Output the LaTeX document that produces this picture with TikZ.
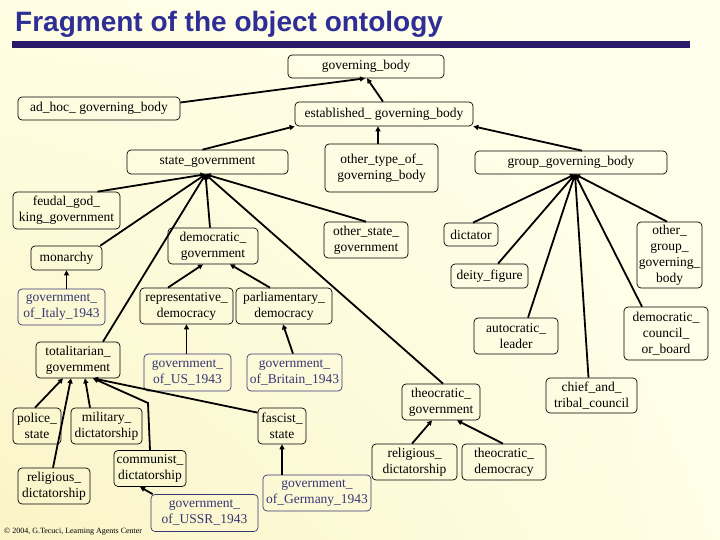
\documentclass[tikz,border=0pt]{standalone}
\usepackage{fontspec}
\setmainfont{Liberation Serif}
\newfontfamily\titlefont{Liberation Sans}
\usetikzlibrary{arrows.meta,shadings}
\definecolor{titleblue}{RGB}{46,46,150}
\definecolor{barblue}{RGB}{42,26,106}
\definecolor{instblue}{RGB}{55,55,115}
\definecolor{bgLL}{RGB}{250,244,198}
\definecolor{bgUL}{RGB}{255,254,228}
\definecolor{bgLR}{RGB}{255,254,230}
\definecolor{bgUR}{RGB}{255,255,238}
\begin{document}
\begin{tikzpicture}[x=1pt,y=-1pt,
  nd/.style={draw, rounded corners=4pt, line width=0.7pt, inner sep=0pt, align=center,
    font=\fontsize{13.5}{16}\selectfont},
  inst/.style={nd, draw=instblue, text=instblue},
  isa/.style={line width=1.8pt, -{Triangle[length=5pt,width=5pt]}}]
\useasboundingbox (0,0) rectangle (720,540);
\shade[lower left=bgLL, upper left=bgUL, lower right=bgLR, upper right=bgUR] (0,0) rectangle (720,540);
% title
\node[anchor=base west, inner sep=0pt, text=titleblue,
  font=\titlefont\bfseries\fontsize{28}{30}\selectfont] (title) at (15,32) {Fragment of the object ontology};
\fill[barblue] (12,41.5) rectangle (690,48);
% nodes
\node[nd, minimum width=156pt, minimum height=23pt] (gb) at (366,66.5) {governing\_body};
\node[nd, minimum width=162pt, minimum height=23pt] (ah) at (99,108.5) {ad\_hoc\_ governing\_body};
\node[nd, minimum width=178pt, minimum height=24pt] (est) at (384,114) {established\_ governing\_body};
\node[nd, minimum width=161pt, minimum height=24pt] (sg) at (207.5,162) {state\_government};
\node[nd, minimum width=113pt, minimum height=48pt] (ot) at (381.5,168) {other\_type\_of\_\\governing\_body};
\node[nd, minimum width=192pt, minimum height=23pt] (ggb) at (571,162.5) {group\_governing\_body};
\node[nd, minimum width=107pt, minimum height=37pt] (fg) at (66.5,210.5) {feudal\_god\_\\king\_government};
\node[nd, minimum width=71pt, minimum height=24pt] (mo) at (66.5,258) {monarchy};
\node[nd, minimum width=90pt, minimum height=36pt] (dg) at (213,246) {democratic\_\\government};
\node[nd, minimum width=84pt, minimum height=36pt] (os) at (366,240) {other\_state\_\\government};
\node[nd, minimum width=54pt, minimum height=23pt] (di) at (471,234.5) {dictator};
\node[nd, minimum width=65pt, minimum height=66pt] (og) at (669.5,255) {other\_\\group\_\\governing\_\\body};
\node[nd, minimum width=77pt, minimum height=24pt] (de) at (489.5,276) {deity\_figure};
\node[inst, minimum width=87pt, minimum height=36pt] (it) at (61.5,307) {government\_\\of\_Italy\_1943};
\node[nd, minimum width=93pt, minimum height=36pt] (rd) at (186.5,306) {representative\_\\democracy};
\node[nd, minimum width=96pt, minimum height=36pt] (pd) at (284,306) {parliamentary\_\\democracy};
\node[nd, minimum width=84pt, minimum height=36pt] (al) at (516,336) {autocratic\_\\leader};
\node[nd, minimum width=84pt, minimum height=53pt] (dc) at (666,333.5) {democratic\_\\council\_\\or\_board};
\node[nd, minimum width=84pt, minimum height=36pt] (tg) at (78,360) {totalitarian\_\\government};
\node[inst, minimum width=87pt, minimum height=37pt] (us) at (187.5,372.5) {government\_\\of\_US\_1943};
\node[inst, minimum width=95pt, minimum height=37pt] (br) at (294.5,372.5) {government\_\\of\_Britain\_1943};
\node[nd, minimum width=78pt, minimum height=36pt] (tcg) at (441,402) {theocratic\_\\government};
\node[nd, minimum width=91pt, minimum height=35pt] (ct) at (591.5,395.5) {chief\_and\_\\tribal\_council};
\node[nd, minimum width=48pt, minimum height=36pt] (ps) at (37,426) {police\_\\state};
\node[nd, minimum width=71pt, minimum height=36pt] (md) at (106.5,426) {military\_\\dictatorship};
\node[nd, minimum width=48pt, minimum height=36pt] (fs) at (282,426) {fascist\_\\state};
\node[nd, minimum width=72pt, minimum height=36pt] (rl) at (54,486) {religious\_\\dictatorship};
\node[nd, minimum width=72pt, minimum height=36pt] (cd) at (150,468.5) {communist\_\\dictatorship};
\node[inst, minimum width=107pt, minimum height=37pt] (ussr) at (204.5,513) {government\_\\of\_USSR\_1943};
\node[inst, minimum width=108pt, minimum height=36pt] (ge) at (317,493) {government\_\\of\_Germany\_1943};
\node[nd, minimum width=85pt, minimum height=36pt] (rr) at (414.5,462) {religious\_\\dictatorship};
\node[nd, minimum width=84pt, minimum height=36pt] (td) at (504,462) {theocratic\_\\democracy};
\node[anchor=base west, inner sep=0pt, font=\fontsize{8}{9}\selectfont] (copy) at (4,533)
  {\textcopyright{} 2004, G.Tecuci, Learning Agents Center};
% edges
\draw[isa] ([yshift=6pt]ah.east) -- ([xshift=-1pt]gb.south);
\draw[isa] ([xshift=-1pt]est.north) -- ([xshift=1pt]gb.south);
\draw[isa] ([xshift=-5pt]sg.north) -- (est.south west);
\draw[isa] ([xshift=-3.5pt]ot.north) -- ([xshift=-6pt]est.south);
\draw[isa] ([xshift=11pt]ggb.north) -- (est.south east);
% state_government children
\draw[isa] ([xshift=31pt]fg.north) -- ([xshift=-2pt]sg.south);
\draw[isa] ([xshift=-2pt]mo.north east) -- ([xshift=-2pt]sg.south);
\draw[isa] ([xshift=25pt]tg.north) -- ([xshift=-2pt]sg.south);
\draw[isa] ([xshift=-3pt]dg.north) -- ([xshift=-2pt]sg.south);
\draw[isa] (os.north) -- ([xshift=-2pt]sg.south);
\draw[isa] ([xshift=2pt]tcg.north) -- ([xshift=-2pt]sg.south);
% group_governing_body children
\draw[isa] ([xshift=2pt]di.north) -- ([xshift=4pt]ggb.south);
\draw[isa] ([xshift=8.5pt]de.north) -- ([xshift=4pt]ggb.south);
\draw[isa] ([xshift=12pt]al.north) -- ([xshift=4pt]ggb.south);
\draw[isa] ([xshift=-3pt]ct.north) -- ([xshift=4pt]ggb.south);
\draw[isa] ([xshift=-24pt]dc.north) -- ([xshift=4pt]ggb.south);
\draw[isa] ([xshift=-2.5pt]og.north) -- ([xshift=4pt]ggb.south);
% others
\draw[isa] ([xshift=5pt]it.north) -- (mo.south);
\draw[isa] ([xshift=-18.5pt]rd.north) -- ([xshift=-10pt]dg.south);
\draw[isa] ([xshift=-14pt]pd.north) -- ([xshift=17pt]dg.south);
\draw[isa] ([xshift=-1pt]us.north) -- ([xshift=-1pt]us.north |- rd.south);
\draw[isa] ([xshift=-1.5pt]br.north) -- ([xshift=-1pt]pd.south);
\draw[isa] ([xshift=-2pt]ps.north) -- ([xshift=-15pt]tg.south);
\draw[isa] ([xshift=-1pt]rl.north) -- ([xshift=-7pt]tg.south);
\draw[isa] ([xshift=-16.5pt]md.north) -- ([xshift=7pt]tg.south);
\coordinate (cbend) at (148,403);
\draw[isa] (cd.north) -- (cbend) -- ([xshift=15pt]tg.south);
\draw[isa] ([yshift=-5pt]fs.north west) -- ([xshift=15pt]tg.south);
\draw[isa] ([xshift=-35pt]ge.north) -- (fs.south);
\draw[isa] ([xshift=2pt]ussr.north west) -- ([xshift=-10pt]cd.south);
\draw[isa] ([xshift=-2.5pt]rr.north) -- ([xshift=-9pt]tcg.south);
\draw[isa] ([xshift=-1pt]td.north) -- ([xshift=16pt]tcg.south);
\end{tikzpicture}
\end{document}
